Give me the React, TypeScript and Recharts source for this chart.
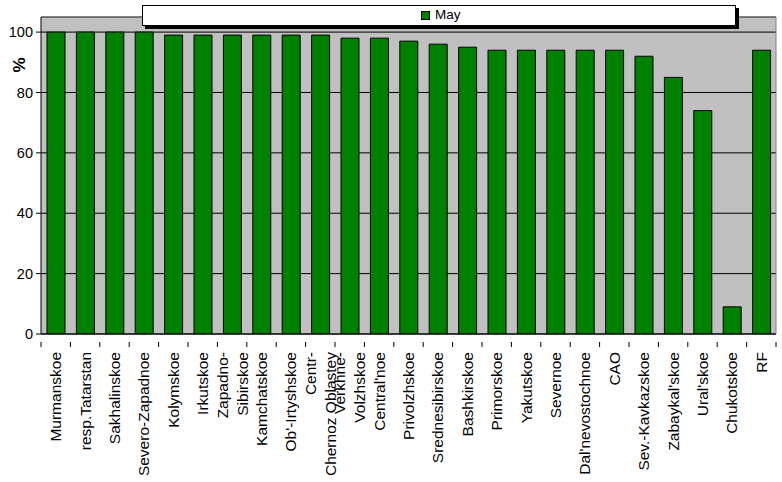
import React from 'react';
import { BarChart, Bar, XAxis, YAxis, CartesianGrid, Legend, ReferenceLine } from 'recharts';

const categories = [
  'Murmanskoe', 'resp.Tatarstan', 'Sakhalinskoe', 'Severo-Zapadnoe', 'Kolymskoe', 'Irkutskoe',
  'Zapadno-\nSibirskoe', 'Kamchatskoe', "Ob'-Irtyshskoe", 'Centr-\nChernoz Oblastey', 'Verkhne-\nVolzhskoe',
  "Central'noe", 'Privolzhskoe', 'Srednesibirskoe', 'Bashkirskoe', 'Primorskoe', 'Yakutskoe', 'Severnoe',
  "Dal'nevostochnoe", 'CAO', 'Sev.-Kavkazskoe', "Zabaykal'skoe", "Ural'skoe", 'Chukotskoe', 'RF',
];
const mayValues = [100, 100, 100, 100, 99, 99, 99, 99, 99, 99, 98, 98, 97, 96, 95, 94, 94, 94, 94, 94, 92, 85, 74, 9, 94];
const yTicks = [0, 20, 40, 60, 80, 100];
const seriesName = 'May';

const data = categories.map((c, i) => ({ name: c, May: mayValues[i] }));

const W = 782;
const H = 482;
const LEFT = 41;
const RIGHT_W = 6;
const FONT = '"Liberation Sans", Arial, sans-serif';
const GREEN = '#008000';
const BAND = (W - LEFT - RIGHT_W) / categories.length;

const XTick = (props: any) => {
  const { x, y, payload, index } = props;
  const lines: string[] = String(payload.value).split('\n');
  const y0 = y + 10;
  const fs = 15.5;
  const first = -((lines.length - 1) * 20) / 2;
  return (
    <g>
      <line x1={x - BAND / 2} x2={x - BAND / 2} y1={y} y2={y + 5} stroke="#000" />
      {index === categories.length - 1 && (
        <line x1={x + BAND / 2} x2={x + BAND / 2} y1={y} y2={y + 5} stroke="#000" />
      )}
      <text
        transform={`rotate(-90, ${x}, ${y0})`}
        textAnchor="end"
        fontFamily={FONT}
        fontSize={fs}
        fill="#000"
      >
        {lines.map((ln, i) => (
          <tspan key={i} x={x} y={y0 + first + i * 20 + fs * 0.35}>
            {ln}
          </tspan>
        ))}
      </text>
    </g>
  );
};

const LegendBox = () => (
  <div
    style={{
      width: 594,
      height: 21,
      boxSizing: 'border-box',
      background: '#fff',
      border: '1px solid #000',
      boxShadow: '3px 3px 0 #000',
      position: 'relative',
      fontFamily: FONT,
      fontSize: 13.5,
    }}
  >
    <span
      style={{
        position: 'absolute',
        left: 278,
        top: 5,
        width: 9,
        height: 9,
        boxSizing: 'border-box',
        background: GREEN,
        border: '1px solid #000',
      }}
    />
    <span style={{ position: 'absolute', left: 292, top: 1, lineHeight: '16px', color: '#000' }}>{seriesName}</span>
  </div>
);

const PercentLabel = () => {
  const cx = 19;
  const cy = 65;
  return (
    <text
      transform={`rotate(-90, ${cx}, ${cy})`}
      x={cx}
      y={cy}
      textAnchor="middle"
      dominantBaseline="central"
      fontFamily={FONT}
      fontSize={17}
      fontWeight="bold"
      fill="#000"
    >
      %
    </text>
  );
};

export default function App() {
  return (
    <div style={{ position: 'absolute', left: 0, top: 0, width: W, height: H, background: '#fff' }}>
      <BarChart
        width={W}
        height={H}
        data={data}
        margin={{ top: 17, right: 0, left: 0, bottom: 0 }}
        barSize={18}
      >
        <CartesianGrid horizontal vertical={false} stroke="#000" fill="#C0C0C0" yAxisId="left" />
        <XAxis
          dataKey="name"
          interval={0}
          height={H - 334}
          axisLine={{ stroke: '#000' }}
          tickLine={false}
          tick={<XTick />}
        />
        <YAxis
          yAxisId="left"
          width={LEFT}
          domain={[0, 105]}
          ticks={yTicks}
          allowDataOverflow
          axisLine={{ stroke: '#000' }}
          tickLine={{ stroke: '#000' }}
          tickSize={5}
          tickMargin={3}
          tick={{ fontFamily: FONT, fontSize: 14.5, fill: '#000' }}
          label={<PercentLabel />}
        />
        <YAxis
          yAxisId="right"
          orientation="right"
          width={RIGHT_W}
          domain={[0, 105]}
          tick={false}
          tickLine={false}
          axisLine={{ stroke: '#808080' }}
        />
        <ReferenceLine yAxisId="left" y={105} stroke="#808080" />
        <Legend
          layout="horizontal"
          verticalAlign="middle"
          align="center"
          wrapperStyle={{ top: 5, left: 142, width: 594, height: 21, margin: 0, padding: 0 }}
          content={<LegendBox />}
        />
        <Bar
          yAxisId="left"
          dataKey="May"
          name={seriesName}
          fill={GREEN}
          stroke="#000"
          strokeWidth={1}
          isAnimationActive={false}
        />
      </BarChart>
    </div>
  );
}
